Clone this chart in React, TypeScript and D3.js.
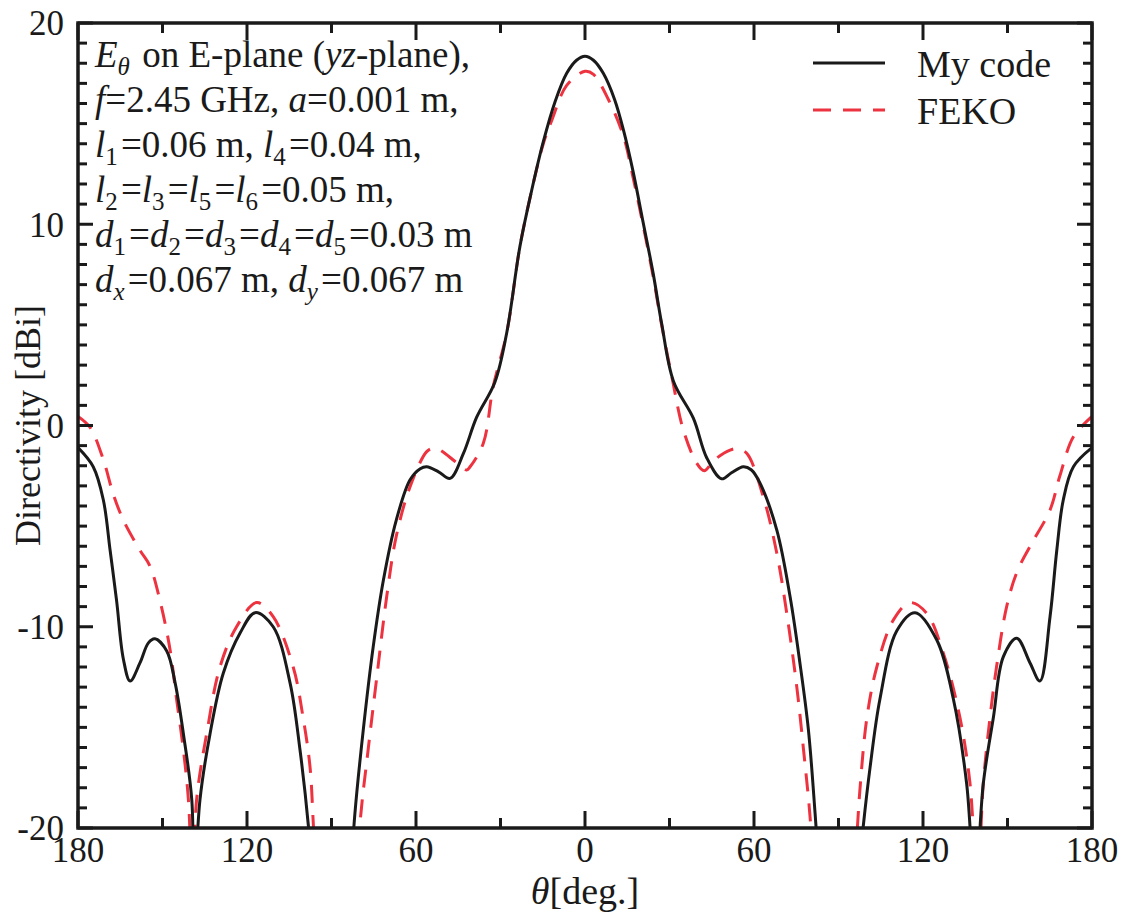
import React from "react";
import * as d3 from "d3";

// angles in deg. (negative = left half of the cut), directivity in dBi
const myCodeTheta = [
  -180, -174.6, -171, -168.6, -166.3, -163.9, -161.5, -158, -155, -152.7, -148.5, -145.5, -142.6, -139.6, -138.8,
  -136.7, -133.1, -128.4, -122.4, -117.1, -110.7, -104.7, -101.2, -98.2, -96, -90, -84, -81.7, -78.7, -75.2,
  -71.6, -67, -62.1, -58.5, -56.2, -52, -47.9, -43.2, -38.5, -32, -27.8, -23.1, -18.9, -14.8, -10.6, -6.5, -3, 0,
  3, 6.5, 10.5, 13.8, 17.1, 20.7, 24.2, 27.2, 31.4, 38.5, 43.2, 48.5, 52, 56.2, 59, 62.1, 68.1, 72.8, 76.3, 79.3,
  81.7, 84, 90, 96, 98.8, 101.2, 104.7, 110.7, 117.2, 124.9, 130.8, 135.5, 138.5, 141.4, 145, 148.5, 153.3,
  158, 161.5, 165.1, 167.5, 169.8, 173.4, 180,
];
const myCodeDb = [
  -1.1, -2.05, -3.7, -6.2, -8.7, -11.6, -12.7, -11.8, -10.8, -10.6, -11.2, -12.8, -15.3, -18.6, -23,
  -18.6, -15.3, -12.3, -10.3, -9.3, -10.0, -12.8, -16.1, -19.9, -24, -35, -24, -19.3, -15.1, -11.0,
  -7.7, -4.7, -2.7, -2.15, -2.05, -2.3, -2.63, -1.4, 0.4, 2.15, 4.6, 8.9, 11.7, 14.1, 16.1, 17.5, 18.15, 18.35,
  18.15, 17.5, 16.2, 14.6, 12.6, 10.05, 7.56, 5.08, 2.2, 0.35, -1.6, -2.65, -2.35, -2.05, -2.2, -2.85, -5.2, -8.5, -11.8, -15.1,
  -19.3, -24, -35, -24, -19.9, -17.0, -13.6, -10.2, -9.3, -10.66, -13.6, -17.8, -23, -17.8, -14.5, -11.5, -10.57,
  -11.8, -12.7, -9.5, -6.2, -3.7, -2.05, -1.1,
];

const fekoTheta = [
  -180, -175.7, -171, -167.5, -163.9, -158, -154.4, -150.9, -147.3, -145, -142.6, -140.8, -139.3, -137.9,
  -134.3, -129.6, -123.7, -116.6, -110.7, -103.6, -100.1, -97.6, -96.3, -94, -88, -82, -79.9, -76.9, -74,
  -70.4, -67, -62.1, -56.2, -53.9, -51.5, -46, -42, -40.8, -36.1, -32.6, -27.8, -23.1, -18.9, -14.8, -11.7,
  -6.5, 0, 3, 8.3, 13.6, 17.1, 20.7, 24.2, 27.2, 31, 34.9, 39.7, 42.3, 46, 51.5, 54, 57.4, 63.3, 68.1, 71.6,
  75.2, 77.5, 80.1, 82, 88, 94, 96.6, 97.6, 100.1, 103.6, 109.5, 115.4, 121.3, 127.2, 133.1, 136.7, 139.3,
  141.4, 143.8, 146.1, 149.7, 153.3, 158, 165.1, 168.6, 173.4, 180,
];
const fekoDb = [
  0.45, -0.1, -1.7, -3.4, -4.7, -6.2, -7.0, -8.7, -11.15, -13.6, -16.1, -18.6, -23, -18.6,
  -15.3, -12.0, -10.0, -8.8, -9.5, -12.0, -14.5, -17.0, -20.2, -25, -35, -25, -19.8, -16.0, -12.6,
  -8.5, -5.5, -3.04, -1.3, -1.13, -1.22, -1.8, -2.21, -2.05, -0.88, 1.93, 4.6, 8.9, 11.7, 14.0, 15.2,
  16.9, 17.6, 17.45, 16.2, 14.4, 12.3, 9.9, 7.4, 5.0, 2.3, -0.22, -1.88, -2.25, -1.7, -1.22, -1.15, -1.38, -3.54, -6.35, -9.3,
  -13.0, -16.0, -19.8, -25, -35, -25, -20.2, -18.1, -14.5, -12.0, -9.66, -8.8, -9.33, -11.3, -14.5, -17.8, -23,
  -17.8, -14.5, -12.0, -9.0, -7.3, -6.0, -4.2, -2.5, -0.56, 0.45,
];

const xMajorTicks = [-180, -120, -60, 0, 60, 120, 180];
const yMajorTicks = [20, 10, 0, -10, -20];

const W = 1125;
const H = 912;
const left = 78, right = 1092, top = 23, bottom = 828;
const FONT = "'Liberation Serif', 'Times New Roman', serif";
const RED = "#ee3340";
const INK = "#1a1a1a";

export default function App() {
  const x = d3.scaleLinear().domain([-180, 180]).range([left, right]);
  const y = d3.scaleLinear().domain([-20, 20]).range([bottom, top]);

  const xMinor = d3.range(-180, 181, 30);
  const yMinor = d3.range(-20, 21, 1);

  const curve = d3
    .line<[number, number]>()
    .x((d) => x(d[0]))
    .y((d) => y(d[1]))
    .curve(d3.curveCatmullRom.alpha(0.5));

  const myPath = curve(myCodeTheta.map((t, i) => [t, myCodeDb[i]] as [number, number]));
  const fekoPath = curve(fekoTheta.map((t, i) => [t, fekoDb[i]] as [number, number]));

  const fs = 37;
  const sub = 25;
  const lineGap = 45;
  const tx = 95;
  const ty = 67;

  // subscript: shift down then back up
  const Sub = ({ t, it }: { t: string; it?: boolean }) => (
    <>
      <tspan dy={8} fontSize={sub} fontStyle={it ? "italic" : "normal"}>{t}</tspan>
      <tspan dy={-8}>{"\u200a"}</tspan>
    </>
  );
  const I = ({ t }: { t: string }) => <tspan fontStyle="italic">{t}</tspan>;

  return (
    <svg width={W} height={H} style={{ position: "absolute", left: 0, top: 0, background: "#fff" }} fontFamily={FONT}>
      <defs>
        <clipPath id="plot">
          <rect x={left} y={top} width={right - left} height={bottom - top} />
        </clipPath>
      </defs>

      <g clipPath="url(#plot)" fill="none" strokeLinejoin="round">
        <path d={fekoPath ?? ""} stroke={RED} strokeWidth={3} strokeDasharray="18 12" />
        <path d={myPath ?? ""} stroke={INK} strokeWidth={3} />
      </g>

      {/* ticks, pointing inward on all four sides */}
      <g stroke={INK} strokeWidth={3}>
        {xMinor.map((t) => {
          const len = t % 60 === 0 ? 17 : 10;
          return (
            <g key={"x" + t}>
              <line x1={x(t)} x2={x(t)} y1={bottom} y2={bottom - len} />
              <line x1={x(t)} x2={x(t)} y1={top} y2={top + len} />
            </g>
          );
        })}
        {yMinor.map((v) => {
          const len = v % 10 === 0 ? 15 : 9;
          return (
            <g key={"y" + v}>
              <line x1={left} x2={left + len} y1={y(v)} y2={y(v)} />
              <line x1={right} x2={right - len} y1={y(v)} y2={y(v)} />
            </g>
          );
        })}
      </g>
      <rect x={left} y={top} width={right - left} height={bottom - top} fill="none" stroke={INK} strokeWidth={3.5} />

      <g fill={INK} fontSize={35}>
        {xMajorTicks.map((t) => (
          <text key={t} x={x(t)} y={bottom + 34} textAnchor="middle">
            {Math.abs(t)}
          </text>
        ))}
        {yMajorTicks.map((v) => (
          <text key={v} x={left - 14} y={y(v)} dy="0.35em" textAnchor="end">
            {v}
          </text>
        ))}
      </g>

      <text x={(left + right) / 2} y={904} textAnchor="middle" fontSize={38} fill={INK}>
        <tspan fontStyle="italic">θ</tspan>[deg.]
      </text>
      <text
        transform={`translate(40, ${(top + bottom) / 2}) rotate(-90)`}
        textAnchor="middle"
        fontSize={36}
        fill={INK}
      >
        Directivity [dBi]
      </text>

      {/* parameter notes */}
      <g fontSize={fs} fill={INK}>
        <text x={tx} y={ty}>
          <I t="E" />
          <Sub t="θ" it /> on E-plane (<I t="yz" />-plane),
        </text>
        <text x={tx} y={ty + lineGap}>
          <I t="f" />=2.45 GHz, <I t="a" />=0.001 m,
        </text>
        <text x={tx} y={ty + lineGap * 2}>
          <I t="l" />
          <Sub t="1" />=0.06 m, <I t="l" />
          <Sub t="4" />=0.04 m,
        </text>
        <text x={tx} y={ty + lineGap * 3}>
          <I t="l" />
          <Sub t="2" />=<I t="l" />
          <Sub t="3" />=<I t="l" />
          <Sub t="5" />=<I t="l" />
          <Sub t="6" />=0.05 m,
        </text>
        <text x={tx} y={ty + lineGap * 4}>
          <I t="d" />
          <Sub t="1" />=<I t="d" />
          <Sub t="2" />=<I t="d" />
          <Sub t="3" />=<I t="d" />
          <Sub t="4" />=<I t="d" />
          <Sub t="5" />=0.03 m
        </text>
        <text x={tx} y={ty + lineGap * 5}>
          <I t="d" />
          <Sub t="x" it />=0.067 m, <I t="d" />
          <Sub t="y" it />=0.067 m
        </text>
      </g>

      {/* legend */}
      <g>
        <line x1={813} x2={885} y1={63} y2={63} stroke={INK} strokeWidth={3} />
        <text x={917} y={77} fontSize={38} fill={INK}>My code</text>
        <line x1={813} x2={885} y1={110} y2={110} stroke={RED} strokeWidth={3} strokeDasharray="18 12" />
        <text x={917} y={124} fontSize={38} fill={INK}>FEKO</text>
      </g>
    </svg>
  );
}
